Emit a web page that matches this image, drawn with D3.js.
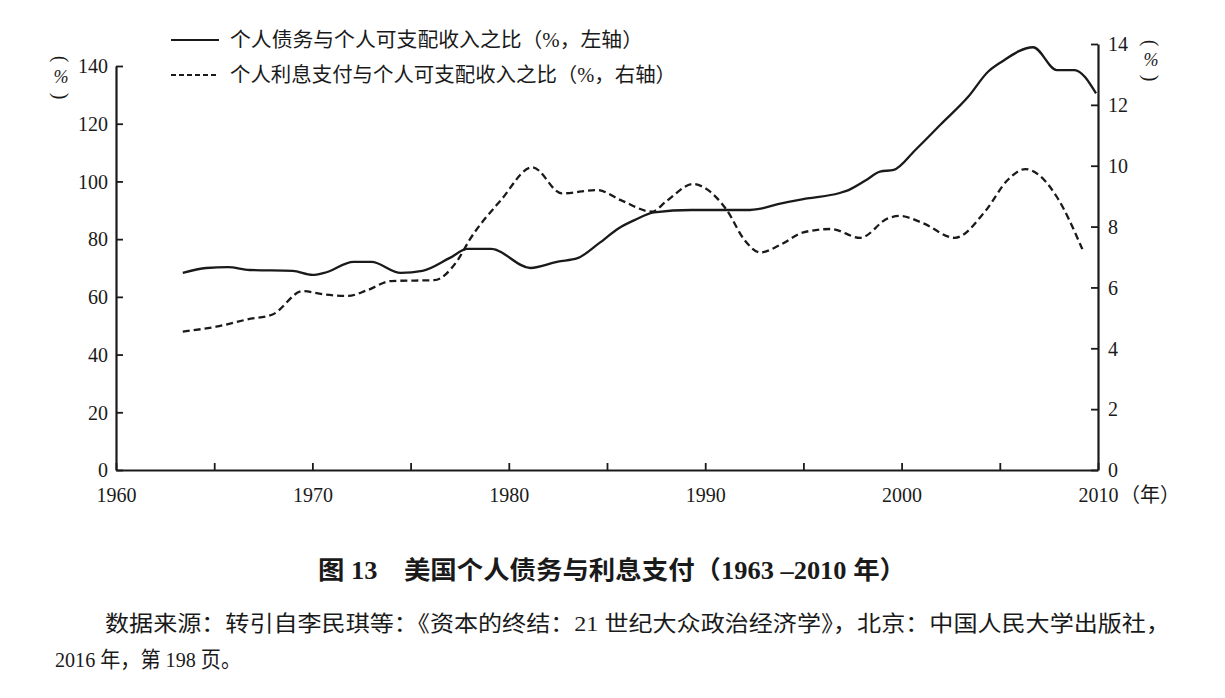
<!DOCTYPE html>
<html>
<head>
<meta charset="utf-8">
<script src="https://cdn.jsdelivr.net/npm/d3@7"></script>
<style>
  html, body { margin: 0; padding: 0; background: #fff; }
  svg { display: block; }
  text { font-family: "Liberation Serif", "Noto Sans CJK SC", serif; fill: #1a1a1a; }
</style>
</head>
<body>
<svg id="chart" width="1225" height="698"></svg>
<script>
// ---- data ----
const debtYears = [1963.4, 1964.6, 1965.7, 1966.8, 1969.0, 1970.0, 1970.6, 1972.1, 1973.0, 1974.5,
  1975.6, 1977.0, 1977.9, 1979.1, 1981.1, 1982.5, 1983.5, 1984.6, 1985.6, 1986.4,
  1987.4, 1989.3, 1990.9, 1992.1, 1992.9, 1993.7, 1995.2, 1996.8, 1997.3, 1998.2,
  1998.9, 1999.6, 2000.7, 2002.0, 2003.4, 2004.4, 2005.1, 2006.7, 2007.9, 2008.8, 2009.9];
const debtRatio = [68.3, 70.0, 70.3, 69.3, 69.0, 67.6, 68.3, 72.1, 72.1, 68.3,
  69.0, 73.5, 76.6, 76.6, 70.0, 72.2, 73.4, 78.6, 83.8, 86.6,
  89.3, 90.1, 90.1, 90.1, 90.7, 92.1, 94.1, 95.9, 97.0, 100.5,
  103.4, 104.0, 110.9, 119.8, 129.4, 138.0, 141.5, 146.5, 138.6, 138.6, 130.5];

const interestYears = [1963.4, 1965.1, 1966.7, 1968.0, 1969.5, 1970.6, 1971.8, 1972.8, 1974.0, 1976.2,
  1977.4, 1978.0, 1979.6, 1981.2, 1982.7, 1984.5, 1985.7, 1987.3, 1988.0, 1989.4,
  1990.0, 1991.1, 1992.0, 1992.8, 1993.8, 1995.0, 1996.4, 1997.9, 1999.3, 1999.9,
  2001.1, 2002.7, 2004.3, 2005.4, 2006.3, 2007.0, 2007.9, 2009.2];
const interestRatio = [4.55, 4.71, 4.95, 5.12, 5.88, 5.77, 5.72, 5.91, 6.21, 6.24,
  6.90, 7.56, 8.87, 9.95, 9.09, 9.20, 8.87, 8.49, 8.82, 9.40,
  9.26, 8.54, 7.56, 7.15, 7.39, 7.81, 7.92, 7.63, 8.27, 8.35,
  8.11, 7.63, 8.54, 9.53, 9.89, 9.69, 8.98, 7.26];

const xTicks = [1960, 1965, 1970, 1975, 1980, 1985, 1990, 1995, 2000, 2005, 2010];
const leftTicks = [0, 20, 40, 60, 80, 100, 120, 140];
const rightTicks = [0, 2, 4, 6, 8, 10, 12, 14];

const legendLabels = ["个人债务与个人可支配收入之比（%，左轴）", "个人利息支付与个人可支配收入之比（%，右轴）"];
const titleText = "图 13　美国个人债务与利息支付（1963 –2010 年）";
const sourceLines = ["数据来源：转引自李民琪等：《资本的终结：21 世纪大众政治经济学》，北京：中国人民大学出版社，",
  "2016 年，第 198 页。"];

// ---- layout ----
const svg = d3.select("#chart");
const ink = "#1a1a1a";
const x = d3.scaleLinear().domain([1960, 2010]).range([116, 1098]);
const yL = d3.scaleLinear().domain([0, 140]).range([470, 66]);
const yR = d3.scaleLinear().domain([0, 14]).range([470, 44]);

function styleAxis(g) {
  g.attr("font-family", null).attr("font-size", null);
  g.select(".domain").attr("stroke", ink).attr("stroke-width", 2.2);
  g.selectAll(".tick line").attr("stroke", ink).attr("stroke-width", 1.8);
  g.selectAll(".tick text").attr("fill", ink).style("font-size", "20px");
}

// left axis
const gL = svg.append("g").attr("transform", "translate(116,0)")
  .call(d3.axisLeft(yL).tickValues(leftTicks).tickSizeInner(-7).tickSizeOuter(0).tickPadding(8));
styleAxis(gL);
gL.selectAll(".tick text").attr("dy", "0.34em");

// right axis
const gR = svg.append("g").attr("transform", "translate(1098,0)")
  .call(d3.axisRight(yR).tickValues(rightTicks).tickSizeInner(-7).tickSizeOuter(0).tickPadding(10));
styleAxis(gR);
gR.selectAll(".tick text").attr("dy", "0.34em");

// bottom axis
const gB = svg.append("g").attr("transform", "translate(0,470)")
  .call(d3.axisBottom(x).tickValues(xTicks).tickSizeInner(-7).tickSizeOuter(0)
    .tickFormat(d => d % 10 === 0 ? String(d) : ""));
styleAxis(gB);
gB.selectAll(".tick text").attr("y", 32).attr("dy", 0);

// year unit
svg.append("text").attr("x", 1120).attr("y", 502).style("font-size", "20px").text("（年）");

// axis unit labels (vertical "（%）")
function unitLabel(cx, yTop, yMid, yBot) {
  svg.append("text").attr("transform", `translate(${cx},${yTop}) rotate(90)`)
    .attr("text-anchor", "middle").attr("dominant-baseline", "central")
    .style("font-size", "20px").text("(");
  svg.append("text").attr("x", cx).attr("y", yMid).attr("text-anchor", "middle")
    .attr("dominant-baseline", "central")
    .style("font-size", "18px").style("font-style", "italic").text("%");
  svg.append("text").attr("transform", `translate(${cx},${yBot}) rotate(90)`)
    .attr("text-anchor", "middle").attr("dominant-baseline", "central")
    .style("font-size", "20px").text(")");
}
unitLabel(61, 59, 77, 96);
unitLabel(1151, 43, 60, 78);

// lines
const debtData = debtYears.map((yr, i) => [yr, debtRatio[i]]);
const intData = interestYears.map((yr, i) => [yr, interestRatio[i]]);

svg.append("path").datum(debtData)
  .attr("fill", "none").attr("stroke", ink).attr("stroke-width", 2.3)
  .attr("stroke-linejoin", "round")
  .attr("d", d3.line().x(d => x(d[0])).y(d => yL(d[1])).curve(d3.curveMonotoneX));

svg.append("path").datum(intData)
  .attr("fill", "none").attr("stroke", ink).attr("stroke-width", 2.3)
  .attr("stroke-dasharray", "7,4")
  .attr("d", d3.line().x(d => x(d[0])).y(d => yR(d[1])).curve(d3.curveMonotoneX));

// legend
const legY = [40, 75];
const legLen = [413, 446];
legendLabels.forEach((lab, i) => {
  svg.append("line").attr("x1", 171).attr("x2", 219).attr("y1", legY[i]).attr("y2", legY[i])
    .attr("stroke", ink).attr("stroke-width", 2.2)
    .attr("stroke-dasharray", i === 1 ? "5,3" : null);
  svg.append("text").attr("x", 230).attr("y", legY[i]).attr("dy", "0.36em")
    .style("font-size", "20px")
    .attr("textLength", legLen[i]).attr("lengthAdjust", "spacingAndGlyphs")
    .text(lab);
});

// title
svg.append("text").attr("x", 318).attr("y", 579)
  .style("font-size", "25px").style("font-weight", "bold")
  .attr("textLength", 588).attr("lengthAdjust", "spacingAndGlyphs")
  .text(titleText);

// source
svg.append("text").attr("x", 105).attr("y", 631).style("font-size", "22px")
  .attr("textLength", 1065).attr("lengthAdjust", "spacingAndGlyphs").text(sourceLines[0]);
svg.append("text").attr("x", 55).attr("y", 667).style("font-size", "22px")
  .attr("textLength", 186).attr("lengthAdjust", "spacingAndGlyphs").text(sourceLines[1]);
</script>
</body>
</html>
